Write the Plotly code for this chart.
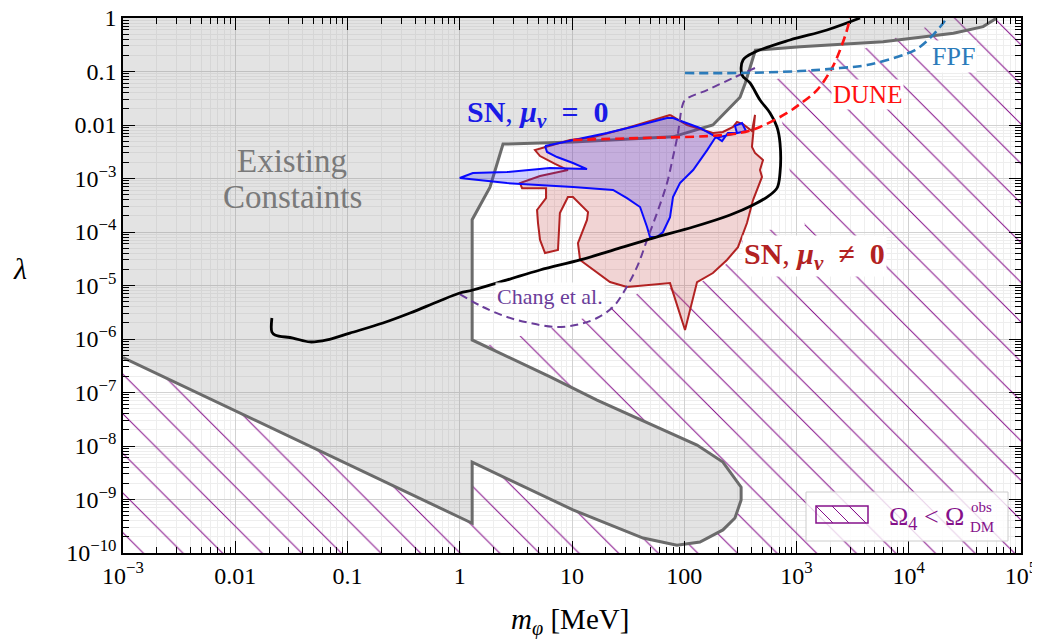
import plotly.graph_objects as go

# ---------------- data (m_phi in MeV, lambda) ----------------
grey_m = [6.1e4, 4.6e4, 2.5e4, 5.9e3, 1.08e3, 430, 350, 314, 180, 79, 10.2, 2.43, 1.86, 1.29, 1.29,
          6.4, 16.7, 70, 130, 221, 321, 321, 283, 221, 138, 86, 43, 10.2, 1.29, 1.29, 1e-3]
grey_lam = [1.0, 0.69, 0.52, 0.36, 0.29, 0.25, 0.061, 0.033, 0.010, 0.006, 0.0048, 0.0044, 6.9e-4, 1.7e-4, 9.6e-7,
            1.95e-7, 7.2e-8, 1.83e-8, 1.04e-8, 5.0e-9, 1.7e-9, 9.8e-10, 4.5e-10, 2.7e-10, 1.6e-10, 1.4e-10, 1.9e-10, 6.4e-10, 5.0e-9, 3.6e-10, 4.5e-7]

black_m = [0.0212, 0.0212, 0.0226, 0.0327, 0.0463, 0.0656, 0.105, 0.207, 0.361, 0.627, 1.0, 1.31, 2.64, 5.19, 11.8,
           23.2, 52.7, 120, 256, 410, 546, 670, 713, 713, 670, 581, 473, 385, 327, 334, 427, 875, 1870, 3680]
black_lam = [2.47e-6, 1.35e-6, 1.19e-6, 1.04e-6, 8.8e-7, 9.6e-7, 1.29e-6, 1.99e-6, 3.06e-6, 4.91e-6, 7.24e-6, 8.24e-6, 1.27e-5, 1.95e-5, 3.0e-5,
             4.6e-5, 7.7e-5, 1.24e-4, 2.08e-4, 3.2e-4, 4.5e-4, 6.6e-4, 1.27e-3, 4.6e-3, 9.2e-3, 0.0168, 0.0293, 0.061, 0.086, 0.164, 0.231, 0.388, 0.597, 1.0]

chang_m = [1.0, 1.61, 2.64, 4.23, 7.35, 11.8, 16.7, 23.2, 28.5, 37.9, 46.6, 57.2, 70.2, 79.4, 88, 95.5, 101.6, 160, 272, 445]
chang_lam = [6.9e-6, 3.96e-6, 2.58e-6, 1.99e-6, 1.67e-6, 1.91e-6, 2.47e-6, 3.96e-6, 7.2e-6, 2.2e-5, 7.1e-5, 2.26e-4, 8.2e-4, 2.52e-3, 7.1e-3, 0.0217, 0.0293, 0.045, 0.0756, 0.121]

dune_m = [10.2, 40.4, 160, 314, 473, 824, 1075, 1524, 2070, 2443, 2818, 3000]
dune_lam = [5.24e-3, 5.71e-3, 6.2e-3, 7.1e-3, 9.2e-3, 0.0168, 0.0247, 0.045, 0.116, 0.252, 0.597, 1.0]

fpf_m = [101.6, 314, 1075, 2443, 4250, 8360, 11380, 14550, 19000, 21900]
fpf_lam = [0.0937, 0.0937, 0.102, 0.116, 0.132, 0.195, 0.252, 0.372, 0.679, 1.0]

sn_mu_m = [74.7, 106, 180, 221, 272, 295, 334, 401, 427, 401, 427, 503, 473, 493, 410, 362, 301, 240, 180, 130, 101.6,
           74.7, 30.9, 21.8, 11.8, 11.3, 13.6, 13.9, 10.2, 9.2, 7.8, 7.5, 5.75, 5.19, 4.98, 4.88, 5.87, 5.87, 3.59, 3.44,
           5.19, 9.2, 7.06, 5.19, 4.68, 6.37, 9.6, 14.5, 30.9, 74.7]
sn_mu_lam = [0.0154, 0.0100, 7.1e-3, 7.4e-3, 9.2e-3, 0.0114, 0.0104, 7.7e-3, 0.0154, 3.9e-3, 3.0e-3, 2.22e-3, 1.44e-3, 1.07e-3, 3.96e-4, 1.47e-4, 5.2e-5, 3.0e-5, 1.71e-5, 1.16e-5, 1.47e-6,
             1.11e-5, 9.4e-6, 1.16e-5, 3.0e-5, 6.2e-5, 1.68e-4, 2.36e-4, 4.5e-4, 4.5e-4, 2.26e-4, 4.6e-5, 4.05e-5, 7.1e-5, 1.47e-4, 2.58e-4, 4.3e-4, 6.6e-4, 6.6e-4, 8.2e-4,
             1.11e-3, 1.44e-3, 1.87e-3, 2.63e-3, 3.4e-3, 4.05e-3, 5.24e-3, 5.71e-3, 8.8e-3, 0.0154]

sn0_m = [5.75, 10.2, 20.5, 40.4, 70.2, 79.4, 138, 180, 217, 245, 295, 283, 327, 355, 188, 160, 120, 91.6, 79.4, 74.7,
         64.7, 57.2, 49.5, 46.6, 40.4, 30.9, 23.2, 10.2, 5.19, 2.64, 1.0, 1.31, 2.64, 6.37, 13.6, 10.2, 7.35, 5.99, 5.75]
sn0_lam = [4.05e-3, 5.24e-3, 7.1e-3, 0.01, 0.0135, 0.0135, 8.8e-3, 6.5e-3, 5.0e-3, 7.1e-3, 7.1e-3, 9.6e-3, 0.0109, 7.7e-3, 5.7e-3, 3.4e-3, 1.44e-3, 8.2e-4, 4.5e-4, 1.9e-4,
           1.0e-4, 8.1e-5, 8.1e-5, 1.24e-4, 2.93e-4, 4.3e-4, 6.1e-4, 6.9e-4, 7.6e-4, 8.2e-4, 1.02e-3, 1.27e-3, 1.32e-3, 1.57e-3, 1.5e-3, 1.95e-3, 2.52e-3, 3.13e-3, 4.05e-3]

hatch_m = [1e-3, 1e-3, 1.29, 1.29, 10.2, 43, 86, 138, 221, 283, 321, 321, 221, 130, 70, 16.7, 6.4, 1.68, 2.15, 3.97,
           7.35, 13.6, 27.9, 40.4, 77.8, 130, 180, 240, 301, 355, 875, 1190, 912, 807, 658, 618, 1143, 3680, 12100, 23300, 1e5, 1e5]
hatch_lam = [1e-10, 4.5e-7, 3.6e-10, 5.0e-9, 6.4e-10, 1.9e-10, 1.4e-10, 1.6e-10, 2.7e-10, 4.5e-10, 9.8e-10, 1.7e-9, 5.0e-9, 1.04e-8, 1.83e-8, 7.2e-8, 1.95e-7, 7.4e-7, 8.4e-7, 1.24e-6,
             1.67e-6, 2.58e-6, 4.7e-6, 7.6e-6, 9.0e-6, 1.07e-5, 1.5e-5, 2.6e-5, 4.8e-5, 1.0e-4, 1.19e-4, 1.35e-4, 6.1e-4, 5.2e-3, 0.0364, 0.0693, 0.098, 0.252, 0.597, 1.0, 1.0, 1e-10]

x_tickvals = [1e-3, 1e-2, 1e-1, 1, 10, 100, 1e3, 1e4, 1e5]
x_ticktext = ["10<sup>−3</sup>", "0.01", "0.1", "1", "10", "100", "10<sup>3</sup>", "10<sup>4</sup>", "10<sup>5</sup>"]
y_tickvals = [10.0 ** k for k in range(-10, 1)]
y_ticktext = ["10<sup>−%d</sup>" % k for k in range(10, 2, -1)] + ["0.01", "0.1", "1"]

# ---------------- styling ----------------
FONT = "Liberation Serif"
PURPLE_H = "#85108a"
# the page body adds an 8px offset; plot area target: x 123..1021, y 18..553 in the screenshot
OFF = 8
W, H = 1040 - OFF, 639 - OFF
L, R, T, B = 123 - OFF, 19, 18 - OFF, 86
PX0, PY1 = 123, 553
PW, PH = W - L - R, H - T - B


def px(xp, yp):
    return (xp - PX0) / PW, (PY1 - yp) / PH


fig = go.Figure()

# hatched region Omega_4 < Omega_DM
fig.add_trace(go.Scatter(x=hatch_m, y=hatch_lam, mode="lines", fill="toself",
                         fillcolor="rgba(0,0,0,0)", line=dict(width=0),
                         fillpattern=dict(shape="\\", fgcolor=PURPLE_H, fgopacity=1, bgcolor="rgba(0,0,0,0)",
                                          size=28, solidity=0.036),
                         hoverinfo="skip", showlegend=False))

# existing constraints grey
fig.add_trace(go.Scatter(x=[1e-3, grey_m[0]] + grey_m, y=[1.0, 1.0] + grey_lam, mode="lines",
                         fill="toself", fillcolor="rgba(140,140,140,0.24)", line=dict(width=0),
                         hoverinfo="skip", showlegend=False))
fig.add_trace(go.Scatter(x=grey_m, y=grey_lam, mode="lines",
                         line=dict(color="#6b6b6b", width=3), hoverinfo="skip", showlegend=False))

# SN mu != 0 region
fig.add_trace(go.Scatter(x=sn_mu_m, y=sn_mu_lam, mode="lines", fill="toself",
                         fillcolor="rgba(190,60,60,0.22)", line=dict(color="#b22222", width=2),
                         hoverinfo="skip", showlegend=False))
# SN mu = 0 region
fig.add_trace(go.Scatter(x=sn0_m, y=sn0_lam, mode="lines", fill="toself",
                         fillcolor="rgba(40,40,255,0.22)", line=dict(color="#0a0aff", width=2),
                         hoverinfo="skip", showlegend=False))

# Chang et al.
fig.add_trace(go.Scatter(x=chang_m, y=chang_lam, mode="lines", line_shape="spline",
                         line=dict(color="#6a3d9a", width=2, dash="8px,5px"), hoverinfo="skip", showlegend=False))
# black curve
fig.add_trace(go.Scatter(x=black_m, y=black_lam, mode="lines", line=dict(color="black", width=2.8),
                         line_shape="spline", hoverinfo="skip", showlegend=False))
# DUNE
fig.add_trace(go.Scatter(x=dune_m, y=dune_lam, mode="lines", line_shape="spline",
                         line=dict(color="#ff1010", width=2.6, dash="9px,5px"), hoverinfo="skip", showlegend=False))
# FPF
fig.add_trace(go.Scatter(x=fpf_m, y=fpf_lam, mode="lines", line_shape="spline",
                         line=dict(color="#2b7bba", width=2.6, dash="9px,5px"), hoverinfo="skip", showlegend=False))

axis_common = dict(type="log", showline=True, linecolor="black", linewidth=1.5, mirror="allticks",
                   ticks="inside", ticklen=12, tickwidth=1.2, tickcolor="black", automargin=False,
                   ticklabeloverflow="allow",
                   showgrid=True, gridcolor="#d2d2d2", gridwidth=1.2, zeroline=False,
                   tickfont=dict(family=FONT, size=24, color="black"),
                   minor=dict(ticks="inside", ticklen=6, tickwidth=1, tickcolor="black", dtick="D1",
                              showgrid=True, gridcolor="#eeeeee", gridwidth=1))

fig.update_xaxes(range=[-3, 5], tickmode="array", tickvals=x_tickvals, ticktext=x_ticktext, **axis_common)
fig.update_yaxes(range=[-10, 0], tickmode="array", tickvals=y_tickvals, ticktext=y_ticktext, **axis_common)

annotations = []


def ann(text, xp, yp, size, color, bg=None, **kw):
    x, y = px(xp, yp)
    d = dict(text=text, x=x, y=y, xref="paper", yref="paper", showarrow=False,
             font=dict(family=FONT, size=size, color=color), xanchor="center", yanchor="middle")
    if bg:
        d.update(bgcolor=bg, borderpad=1)
    d.update(kw)
    annotations.append(d)


SP = "&nbsp;"
ann("Existing", 292, 161, 33, "#7a7a7a")
ann("Constaints", 292, 197, 33, "#7a7a7a")
ann("<b>SN</b>, <b><i>μ<sub>ν</sub></i>" + SP * 2 + "=" + SP * 2 + "0</b>", 537, 114, 30, "#1a1ae6")
ann("<b>SN</b>, <b><i>μ<sub>ν</sub></i>" + SP * 2 + "≠" + SP * 2 + "0</b>", 814, 256, 30, "#b22222", bg="white")
ann("DUNE", 867, 95, 25, "#ff1010", bg="white")
ann("FPF", 953, 57, 26, "#2b7bba", bg="white")
ann("Chang et al.", 550, 296, 22, "#6a3d9a", bg="rgba(255,255,255,0.85)")
ann("<i>m<sub>φ</sub></i> [MeV]", 570, 621, 29, "black")
ann("<i>λ</i>", 20, 268, 30, "black")
# legend text
ann("Ω<sub>4</sub> &lt; Ω", 926, 518, 26, PURPLE_H)
ann("obs", 981, 507, 15, PURPLE_H)
ann("DM", 982, 527, 15, PURPLE_H)

shapes = []
x0, y0 = px(806, 541)
x1, y1 = px(1008, 492)
shapes.append(dict(type="rect", xref="paper", yref="paper", x0=x0, y0=y0, x1=x1, y1=y1,
                   line=dict(color="#cccccc", width=1), fillcolor="rgba(255,255,255,0.8)", layer="above"))
x0, y0 = px(816, 523)
x1, y1 = px(868, 506)
shapes.append(dict(type="rect", xref="paper", yref="paper", x0=x0, y0=y0, x1=x1, y1=y1,
                   line=dict(color=PURPLE_H, width=1.5), fillcolor="rgba(0,0,0,0)", layer="above"))
for sx in (816, 832, 849):
    a0, b0 = px(sx, 506)
    a1, b1 = px(min(sx + 17, 868), 506 + (min(sx + 17, 868) - sx))
    shapes.append(dict(type="line", xref="paper", yref="paper", x0=a0, y0=b0, x1=a1, y1=b1,
                       line=dict(color=PURPLE_H, width=1), layer="above"))

fig.update_layout(width=W, height=H, margin=dict(l=L, r=R, t=T, b=B),
                  plot_bgcolor="white", paper_bgcolor="white",
                  annotations=annotations, shapes=shapes, showlegend=False)

fig.write_html("out.html")
